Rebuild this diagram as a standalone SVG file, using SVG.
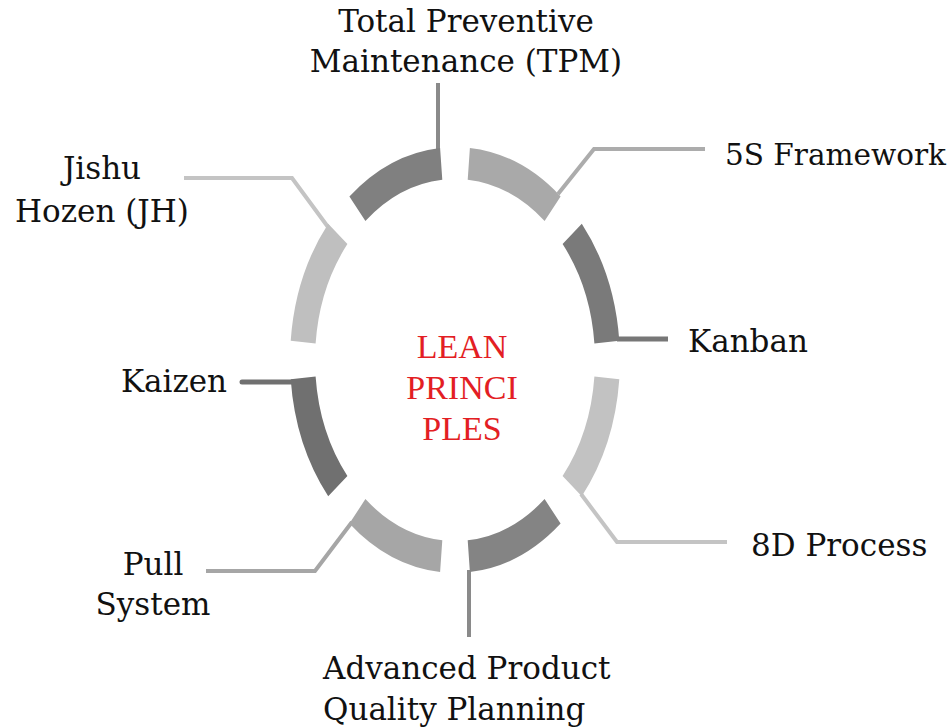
<svg xmlns="http://www.w3.org/2000/svg" width="951" height="727" viewBox="0 0 951 727">
<style>
.lbl{font-family:"DejaVu Serif","Liberation Serif",serif;font-size:31px;fill:#111}
.ctr{font-family:"Liberation Serif","Times New Roman",serif;font-size:34px;fill:#e31e24;text-anchor:middle}
.ld{fill:none;stroke-linejoin:miter}
</style>
<rect width="951" height="727" fill="#ffffff"/>
<g id="connectors" class="ld">
<polyline points="438,150 438,83" stroke="#8a8a8a" stroke-width="4"/>
<polyline points="558,194 594,149 705,149" stroke="#acacac" stroke-width="4"/>
<polyline points="617,339 668,339" stroke="#777777" stroke-width="5"/>
<polyline points="581,494 617,542 727,542" stroke="#c4c4c4" stroke-width="4"/>
<polyline points="469,570 469,637" stroke="#8a8a8a" stroke-width="4"/>
<polyline points="352,522 315,571 206,571" stroke="#a6a6a6" stroke-width="4"/>
<polyline points="293,382 242,382" stroke="#707070" stroke-width="5" stroke-linecap="round"/>
<polyline points="328,227 292,178 184,178" stroke="#c4c4c4" stroke-width="4"/>
</g>
<g id="tpm">
<path d="M349.4 196.4 A165 213 0 0 1 440.1 147.9 L442.3 179.7 A140 181 0 0 0 365.4 220.9 Z" fill="#808080"/>
<text class="lbl" x="466" y="32" text-anchor="middle">Total Preventive</text>
<text class="lbl" x="466" y="72" text-anchor="middle">Maintenance (TPM)</text>
</g>
<g id="s5">
<path d="M469.9 147.9 A165 213 0 0 1 560.6 196.4 L544.6 220.9 A140 181 0 0 0 467.7 179.7 Z" fill="#a9a9a9"/>
<text class="lbl" x="725" y="165" style="font-size:30px" textLength="221" lengthAdjust="spacingAndGlyphs">5S Framework</text>
</g>
<g id="kanban">
<path d="M581.8 223.7 A165 213 0 0 1 619.3 340.7 L594.4 343.6 A140 181 0 0 0 562.6 244.1 Z" fill="#7a7a7a"/>
<text class="lbl" x="688" y="352">Kanban</text>
</g>
<g id="d8">
<path d="M619.3 379.3 A165 213 0 0 1 581.8 496.3 L562.6 475.9 A140 181 0 0 0 594.4 376.4 Z" fill="#c2c2c2"/>
<text class="lbl" x="751" y="556">8D Process</text>
</g>
<g id="apqp">
<path d="M560.6 523.6 A165 213 0 0 1 469.9 572.1 L467.7 540.3 A140 181 0 0 0 544.6 499.1 Z" fill="#848484"/>
<text class="lbl" x="323" y="679">Advanced Product</text>
<text class="lbl" x="323" y="720">Quality Planning</text>
</g>
<g id="pull">
<path d="M440.1 572.1 A165 213 0 0 1 349.4 523.6 L365.4 499.1 A140 181 0 0 0 442.3 540.3 Z" fill="#a6a6a6"/>
<text class="lbl" x="153" y="575" text-anchor="middle">Pull</text>
<text class="lbl" x="153" y="615" text-anchor="middle">System</text>
</g>
<g id="kaizen">
<path d="M328.2 496.3 A165 213 0 0 1 290.7 379.3 L315.6 376.4 A140 181 0 0 0 347.4 475.9 Z" fill="#707070"/>
<text class="lbl" x="174" y="392" text-anchor="middle">Kaizen</text>
</g>
<g id="jishu">
<path d="M290.7 340.7 A165 213 0 0 1 328.2 223.7 L347.4 244.1 A140 181 0 0 0 315.6 343.6 Z" fill="#bfbfbf"/>
<text class="lbl" x="102" y="179" text-anchor="middle">Jishu</text>
<text class="lbl" x="102" y="222" text-anchor="middle">Hozen (JH)</text>
</g>
<g id="center">
<text class="ctr" x="462" y="358">LEAN</text>
<text class="ctr" x="462" y="399">PRINCI</text>
<text class="ctr" x="462" y="440">PLES</text>
</g>
</svg>
